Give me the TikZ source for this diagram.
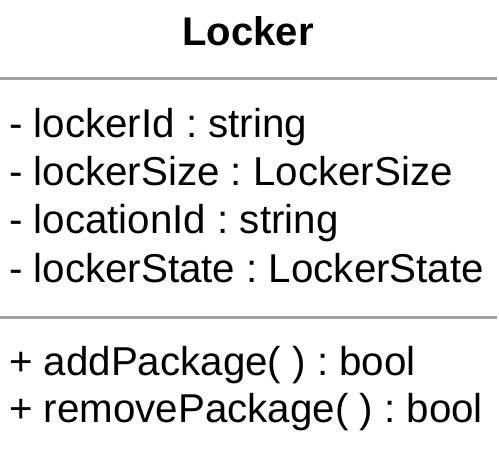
\documentclass[tikz,border=0pt]{standalone}
\usepackage{fontspec}
\setmainfont{Liberation Sans}
\definecolor{sepgray}{HTML}{A0A0A0}
\frenchspacing
\begin{document}
\begin{tikzpicture}[x=1pt,y=-1pt,
  member/.style={anchor=base west,inner sep=0pt,font=\fontsize{40.3}{48}\selectfont\frenchspacing},
  titletext/.style={anchor=base,inner sep=0pt,font=\fontsize{40}{48}\selectfont\bfseries},
  sep/.style={draw=sepgray,line width=3pt}]
\useasboundingbox (0,0) rectangle (499,467);
\node[titletext] (title) at (248,45) {Locker};
\coordinate (s1l) at (0,78);
\coordinate (s1r) at (497,78);
\coordinate (s2l) at (0,317);
\coordinate (s2r) at (497,317);
\draw[sep] (s1l) -- (s1r);
\draw[sep] (s2l) -- (s2r);
\node[member] (a1) at (9,137) {- lockerId : string};
\node[member] (a2) at (9,185) {- lockerSize : LockerSize};
\node[member] (a3) at (9,233) {- locationId : string};
\node[member] (a4) at (9,282) {- lockerState : LockerState};
\node[member] (m1) at (9,375) {+ addPackage( ) : bool};
\node[member] (m2) at (9,422) {+ removePackage( ) : bool};
\end{tikzpicture}
\end{document}
